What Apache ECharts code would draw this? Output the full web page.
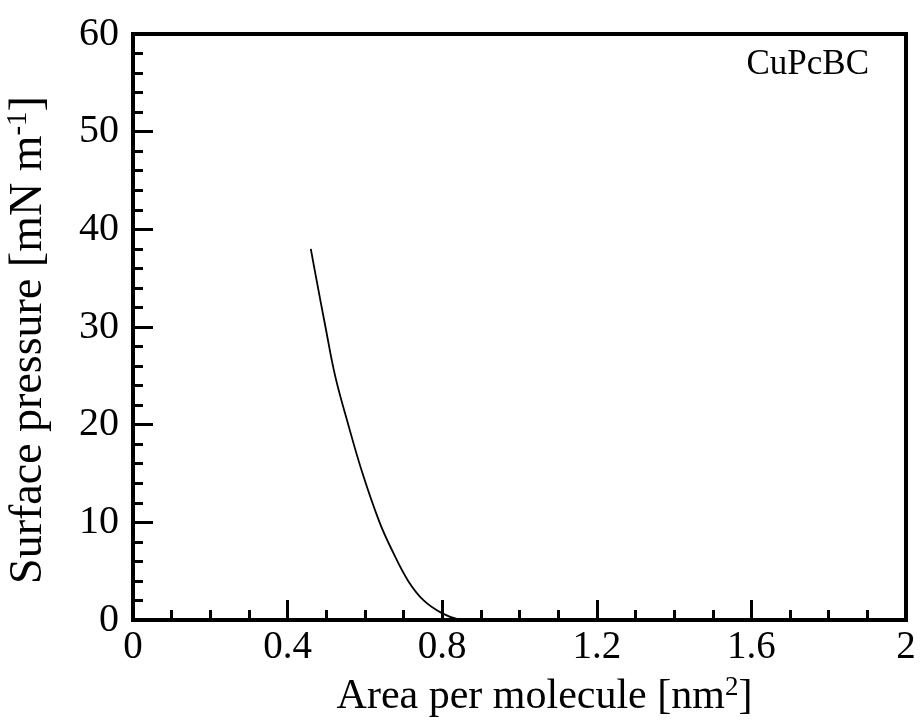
<!DOCTYPE html>
<html>
<head>
<meta charset="utf-8">
<script src="https://cdn.jsdelivr.net/npm/echarts@6/dist/echarts.min.js"></script>
<style>
  html, body { margin: 0; padding: 0; background: #fff; }
  #chart { width: 920px; height: 720px; }
</style>
</head>
<body>
<div id="chart"></div>
<script>
// isotherm: area [nm2], pressure [mN/m]
const area = [0.460, 0.474, 0.498, 0.523, 0.557, 0.594, 0.638, 0.672, 0.712, 0.752, 0.799, 0.840, 0.870];
const pressure = [38.0, 35.0, 30.0, 25.0, 20.0, 15.0, 10.0, 7.0, 4.0, 2.0, 0.7, 0.1, 0];
const sampleName = 'CuPcBC';
const xTicks = [0, 0.4, 0.8, 1.2, 1.6, 2];
const yTicks = [0, 10, 20, 30, 40, 50, 60];

const font = '"Liberation Serif", "DejaVu Serif", serif';
const points = area.map((a, i) => [a, pressure[i]]);

const chart = echarts.init(document.getElementById('chart'));
chart.setOption({
  animation: false,
  backgroundColor: '#fff',
  title: {
    text: sampleName,
    right: 46,
    top: 42,
    textStyle: { fontFamily: font, fontSize: 35, fontWeight: 'normal', color: '#000' }
  },
  grid: {
    left: 133, right: 14, top: 34, bottom: 100,
    outerBoundsMode: 'none',
    containLabel: false,
    show: true, borderWidth: 4, borderColor: '#000', backgroundColor: 'transparent'
  },
  xAxis: {
    type: 'value',
    min: xTicks[0],
    max: xTicks[xTicks.length - 1],
    interval: 0.4,
    name: '{t|Area per molecule [nm}{s|2}{t|]}',
    nameLocation: 'middle',
    nameGap: 54,
    nameTextStyle: {
      padding: [0, 0, 0, 50],
      rich: {
        t: { fontFamily: font, fontSize: 42, color: '#000' },
        s: { fontFamily: font, fontSize: 27, color: '#000', verticalAlign: 'top', padding: [0, 0, 18, 0] }
      }
    },
    axisLine: { show: true, lineStyle: { color: '#000', width: 4 } },
    axisTick: { inside: true, length: 20, lineStyle: { color: '#000', width: 3 } },
    minorTick: { show: true, splitNumber: 4, length: 10, lineStyle: { color: '#000', width: 3 } },
    splitLine: { show: false },
    axisLabel: {
      margin: 8,
      fontFamily: font, fontSize: 39, color: '#000',
      formatter: v => String(+v.toFixed(1))
    }
  },
  yAxis: {
    type: 'value',
    min: yTicks[0],
    max: yTicks[yTicks.length - 1],
    interval: 10,
    name: '{t|Surface pressure [mN m}{s|-1}{t|]}',
    nameLocation: 'middle',
    nameGap: 80,
    nameRotate: 90,
    nameTextStyle: {
      padding: [0, 26, 0, 0],
      rich: {
        t: { fontFamily: font, fontSize: 46, color: '#000' },
        s: { fontFamily: font, fontSize: 29, color: '#000', verticalAlign: 'top', padding: [0, 0, 20, 0] }
      }
    },
    axisLine: { show: true, lineStyle: { color: '#000', width: 4 } },
    axisTick: { inside: true, length: 20, lineStyle: { color: '#000', width: 3 } },
    minorTick: { show: true, splitNumber: 5, length: 10, lineStyle: { color: '#000', width: 3 } },
    splitLine: { show: false },
    axisLabel: { margin: 14, fontFamily: font, fontSize: 40, color: '#000' }
  },
  series: [{
    type: 'line',
    data: points,
    smooth: 0.4,
    showSymbol: false,
    lineStyle: { color: '#000', width: 1.8 }
  }]
});
</script>
</body>
</html>
